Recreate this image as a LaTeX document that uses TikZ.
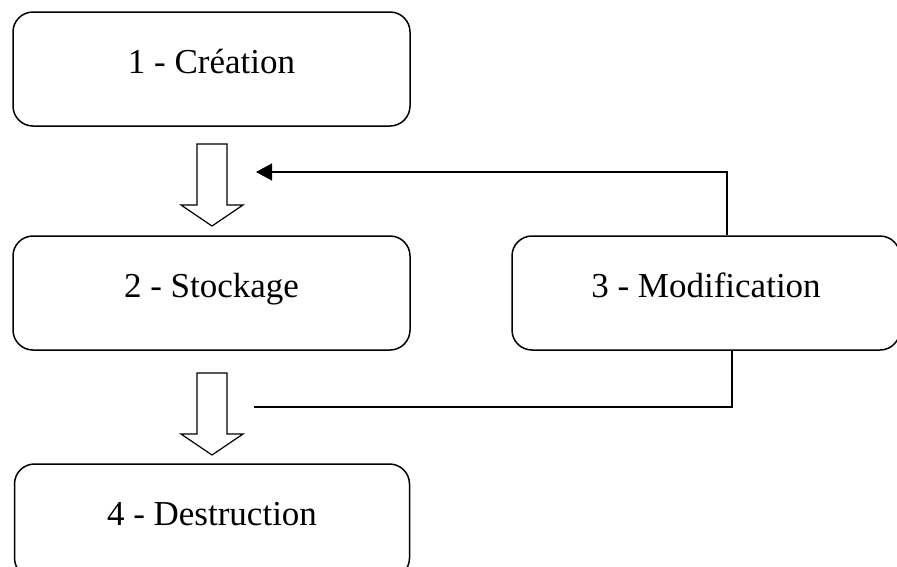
\documentclass[tikz,border=0pt]{standalone}
\usepackage{fontspec}
\setmainfont{Liberation Serif}
\usetikzlibrary{arrows.meta}
\tikzset{
    phase/.style={draw, line width=1.5pt, rounded corners=20pt, minimum height=114pt,
        text height=23pt, text depth=15pt, font=\fontsize{35}{38}\selectfont},
    link/.style={line width=1.4pt},
    bigarrow/.style={line width=1.2pt, fill=white}
}
\begin{document}
\begin{tikzpicture}[x=1pt,y=-1pt]
            \useasboundingbox (0,0) rectangle (897,566);
            \clip (0,0) rectangle (897,566);
            \node[phase, minimum width=397pt] (cre) at (211.5,69) {1 - Création};
            \node[phase, minimum width=397pt] (sto) at (211.5,293) {2 - Stockage};
            \node[phase, minimum width=388pt] (mod) at (706,293) {3 - Modification};
            \node[phase, minimum width=395pt] (des) at (212,521) {4 - Destruction};
            % block arrows
            \draw[bigarrow] (197,144) -- (227,144) -- (227,205) -- (243,205) -- (212,226)
                -- (181,205) -- (197,205) -- cycle;
            \draw[bigarrow] (197,373) -- (227,373) -- (227,434) -- (243,434) -- (212,455)
                -- (181,434) -- (197,434) -- cycle;
            % feedback lines
            \coordinate (back) at (256,172);
            \coordinate (out) at (254,407);
            \draw[link, -{Triangle[length=16pt,width=17pt]}] ([xshift=21pt]mod.north) |- (back);
            \draw[link] ([xshift=26pt]mod.south) |- (out);
        \end{tikzpicture}
\end{document}
